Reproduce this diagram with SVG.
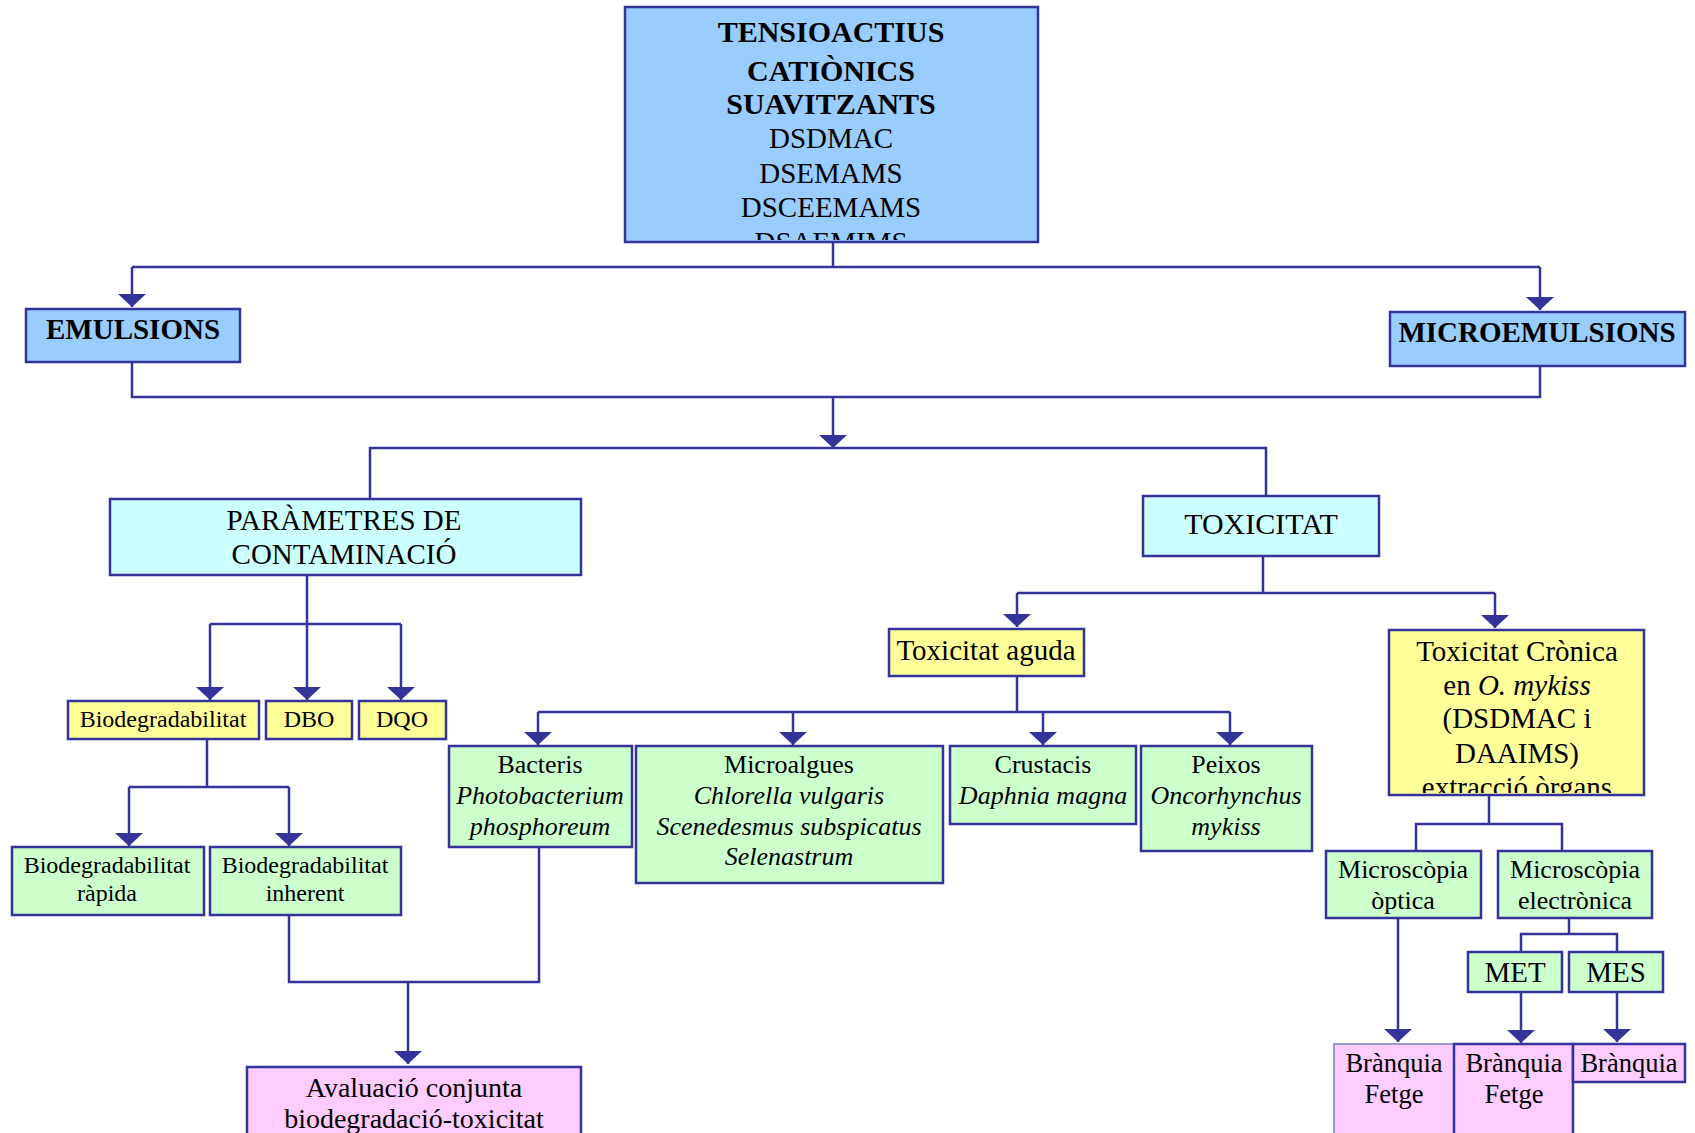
<svg xmlns="http://www.w3.org/2000/svg" width="1695" height="1133" viewBox="0 0 1695 1133">
<style>
text{font-family:"Liberation Serif","Times New Roman",serif;fill:#000;text-anchor:middle}
.b{font-weight:bold}
.i{font-style:italic}
.box{stroke:#333399;stroke-width:2.5}
.blue{fill:#99CCFF}
.cyan{fill:#CCFFFF}
.yel{fill:#FFFF99}
.grn{fill:#CCFFCC}
.pnk{fill:#FFCCFF}
.c{fill:none;stroke:#333399;stroke-width:2.5}
.a{fill:none;stroke:#333399;stroke-width:2.5;marker-end:url(#arr)}
</style>
<defs>
<marker id="arr" markerUnits="userSpaceOnUse" viewBox="0 -15 14 30" refX="13" refY="0" markerWidth="14" markerHeight="30" orient="auto">
<path d="M0,-14 L13,0 L0,14 Z" fill="#333399"/>
</marker>
<clipPath id="clipTop"><rect x="626" y="8" width="411" height="232"/></clipPath>
<clipPath id="clipCron"><rect x="1391" y="632" width="251" height="161"/></clipPath>
</defs>
<rect width="1695" height="1133" fill="#fff"/>

<g id="connectors">
<path class="c" d="M833,242 V267 M132,267 H1540"/>
<path class="a" d="M132,267 V307"/>
<path class="a" d="M1540,267 V310"/>
<path class="c" d="M132,362 V397 H1540 V366"/>
<path class="a" d="M833,397 V448"/>
<path class="c" d="M370,499 V448 H1266 V496"/>
<path class="c" d="M307,575 V624 M210,624 H401"/>
<path class="a" d="M210,624 V700"/>
<path class="a" d="M307,624 V700"/>
<path class="a" d="M401,624 V700"/>
<path class="c" d="M207,739 V787 M129,787 H289"/>
<path class="a" d="M129,787 V846"/>
<path class="a" d="M289,787 V846"/>
<path class="c" d="M289,915 V982 H539 V847"/>
<path class="a" d="M408,982 V1064"/>
<path class="c" d="M1263,556 V593 M1017,593 H1495"/>
<path class="a" d="M1017,593 V627"/>
<path class="a" d="M1495,593 V628"/>
<path class="c" d="M1017,676 V712 M538,712 H1230"/>
<path class="a" d="M538,712 V745"/>
<path class="a" d="M793,712 V745"/>
<path class="a" d="M1043,712 V745"/>
<path class="a" d="M1230,712 V745"/>
<path class="c" d="M1489,795 V824 M1416,851 V824 H1562 V851"/>
<path class="a" d="M1398,918 V1042"/>
<path class="c" d="M1569,918 V934 M1521,952 V934 H1617 V952"/>
<path class="a" d="M1521,992 V1043"/>
<path class="a" d="M1617,992 V1042"/>
</g>

<g id="top">
<rect class="box blue" x="625" y="7" width="413" height="235"/>
<g clip-path="url(#clipTop)">
<text class="b" x="831" y="42" font-size="30">TENSIOACTIUS</text>
<text class="b" x="831" y="81" font-size="30">CATIÒNICS</text>
<text class="b" x="831" y="114" font-size="30">SUAVITZANTS</text>
<text x="831" y="148" font-size="29">DSDMAC</text>
<text x="831" y="183" font-size="29">DSEMAMS</text>
<text x="831" y="217" font-size="29">DSCEEMAMS</text>
<text x="831" y="252" font-size="29">DSAEMIMS</text>
</g>
</g>

<g id="emulsions">
<rect class="box blue" x="26" y="309" width="214" height="53"/>
<text class="b" x="133" y="339" font-size="29">EMULSIONS</text>
</g>
<g id="microemulsions">
<rect class="box blue" x="1390" y="312" width="295" height="54"/>
<text class="b" x="1537" y="342" font-size="29">MICROEMULSIONS</text>
</g>

<g id="parametres">
<rect class="box cyan" x="110" y="499" width="471" height="76"/>
<text x="344" y="530" font-size="29">PARÀMETRES DE</text>
<text x="344" y="564" font-size="29">CONTAMINACIÓ</text>
</g>
<g id="toxicitat">
<rect class="box cyan" x="1143" y="496" width="236" height="60"/>
<text x="1261" y="534" font-size="30">TOXICITAT</text>
</g>

<g id="biodeg">
<rect class="box yel" x="68" y="701" width="191" height="38"/>
<text x="163" y="727" font-size="24">Biodegradabilitat</text>
</g>
<g id="dbo">
<rect class="box yel" x="266" y="701" width="86" height="38"/>
<text x="309" y="727" font-size="24">DBO</text>
</g>
<g id="dqo">
<rect class="box yel" x="359" y="701" width="87" height="38"/>
<text x="402" y="727" font-size="24">DQO</text>
</g>

<g id="biodeg-rapida">
<rect class="box grn" x="12" y="847" width="192" height="68"/>
<text x="107" y="873" font-size="24">Biodegradabilitat</text>
<text x="107" y="901" font-size="24">ràpida</text>
</g>
<g id="biodeg-inherent">
<rect class="box grn" x="210" y="847" width="191" height="68"/>
<text x="305" y="873" font-size="24">Biodegradabilitat</text>
<text x="305" y="901" font-size="24">inherent</text>
</g>

<g id="avaluacio">
<rect class="box pnk" x="247" y="1067" width="334" height="80"/>
<text x="414" y="1097" font-size="28">Avaluació conjunta</text>
<text x="414" y="1128" font-size="28">biodegradació-toxicitat</text>
</g>

<g id="toxicitat-aguda">
<rect class="box yel" x="889" y="629" width="195" height="47"/>
<text x="986" y="660" font-size="29">Toxicitat aguda</text>
</g>

<g id="bacteris">
<rect class="box grn" x="449" y="746" width="183" height="101"/>
<text x="540" y="773" font-size="26">Bacteris</text>
<text class="i" x="540" y="804" font-size="26">Photobacterium</text>
<text class="i" x="540" y="835" font-size="26">phosphoreum</text>
</g>
<g id="microalgues">
<rect class="box grn" x="636" y="746" width="307" height="137"/>
<text x="789" y="773" font-size="26">Microalgues</text>
<text class="i" x="789" y="804" font-size="26">Chlorella vulgaris</text>
<text class="i" x="789" y="835" font-size="26">Scenedesmus subspicatus</text>
<text class="i" x="789" y="865" font-size="26">Selenastrum</text>
</g>
<g id="crustacis">
<rect class="box grn" x="950" y="746" width="186" height="78"/>
<text x="1043" y="773" font-size="26">Crustacis</text>
<text class="i" x="1043" y="804" font-size="26">Daphnia magna</text>
</g>
<g id="peixos">
<rect class="box grn" x="1141" y="746" width="171" height="105"/>
<text x="1226" y="773" font-size="26">Peixos</text>
<text class="i" x="1226" y="804" font-size="26">Oncorhynchus</text>
<text class="i" x="1226" y="835" font-size="26">mykiss</text>
</g>

<g id="toxicitat-cronica">
<rect class="box yel" x="1389" y="630" width="255" height="165"/>
<g clip-path="url(#clipCron)">
<text x="1517" y="661" font-size="29">Toxicitat Crònica</text>
<text x="1517" y="695" font-size="29">en <tspan class="i">O. mykiss</tspan></text>
<text x="1517" y="728" font-size="29">(DSDMAC i</text>
<text x="1517" y="763" font-size="29">DAAIMS)</text>
<text x="1517" y="797" font-size="29">extracció òrgans</text>
</g>
</g>

<g id="microscopia-optica">
<rect class="box grn" x="1326" y="851" width="155" height="67"/>
<text x="1403" y="878" font-size="26">Microscòpia</text>
<text x="1403" y="909" font-size="26">òptica</text>
</g>
<g id="microscopia-electronica">
<rect class="box grn" x="1498" y="851" width="154" height="67"/>
<text x="1575" y="878" font-size="26">Microscòpia</text>
<text x="1575" y="909" font-size="26">electrònica</text>
</g>
<g id="met">
<rect class="box grn" x="1468" y="952" width="94" height="40"/>
<text x="1515" y="982" font-size="29">MET</text>
</g>
<g id="mes">
<rect class="box grn" x="1569" y="952" width="94" height="40"/>
<text x="1616" y="982" font-size="29">MES</text>
</g>

<g id="branquia-fetge-1">
<rect class="pnk" x="1334" y="1044" width="120" height="100" stroke="#9999CC" stroke-width="2"/>
<text x="1394" y="1072" font-size="26.5">Brànquia</text>
<text x="1394" y="1103" font-size="26.5">Fetge</text>
</g>
<g id="branquia-fetge-2">
<rect class="box pnk" x="1454" y="1044" width="119" height="100"/>
<text x="1514" y="1072" font-size="26.5">Brànquia</text>
<text x="1514" y="1103" font-size="26.5">Fetge</text>
</g>
<g id="branquia-3">
<rect class="box pnk" x="1573" y="1044" width="112" height="38"/>
<text x="1629" y="1072" font-size="26.5">Brànquia</text>
</g>
</svg>
